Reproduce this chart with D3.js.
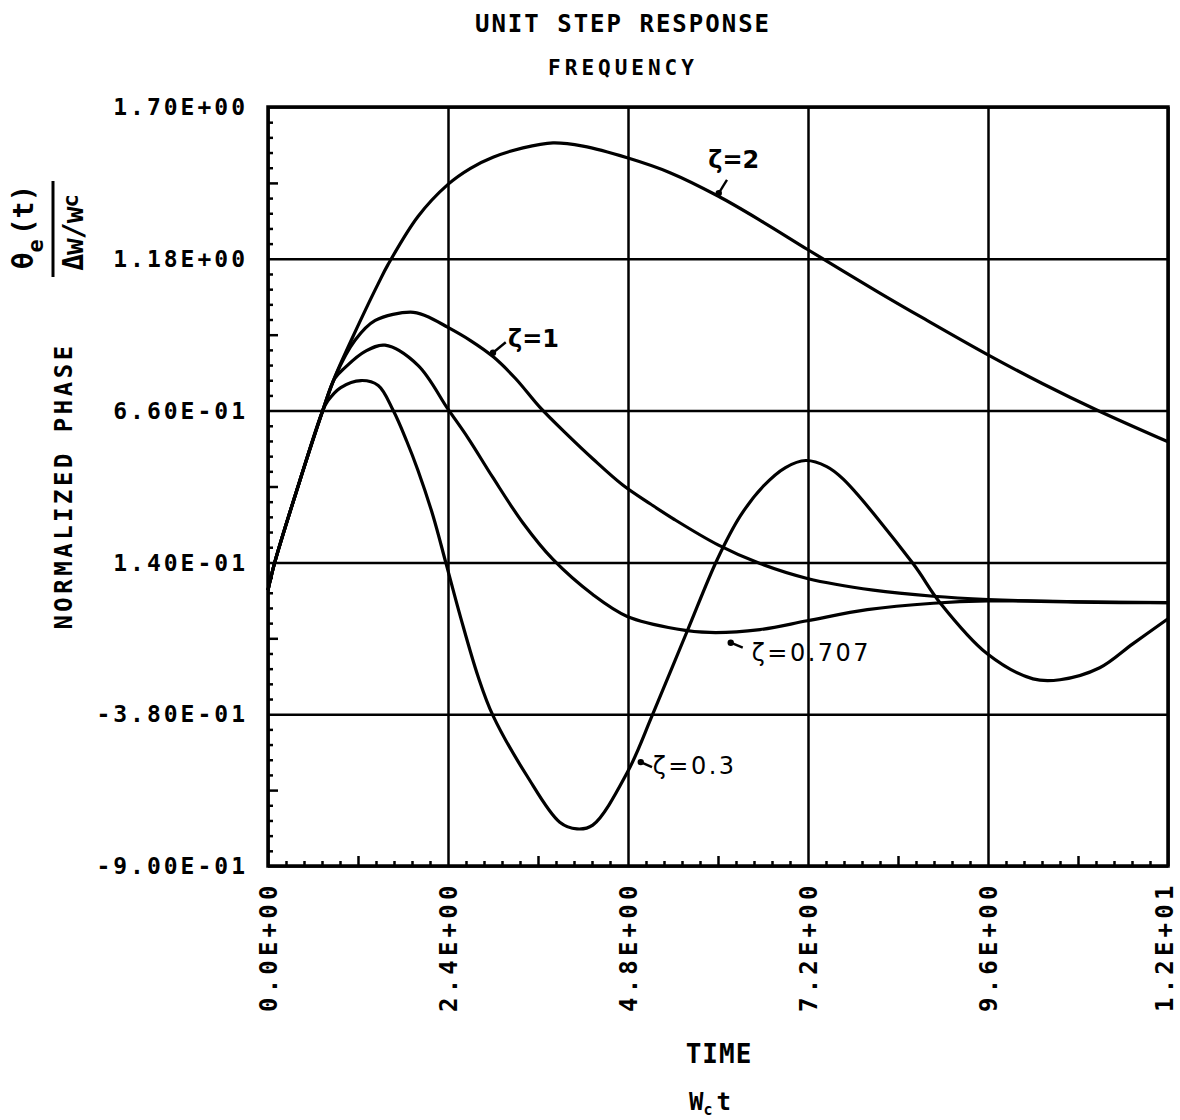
<!DOCTYPE html>
<html>
<head>
<meta charset="utf-8">
<script src="https://cdn.jsdelivr.net/npm/d3@7"></script>
<style>
  html, body { margin: 0; padding: 0; background: #fff; }
  svg { display: block; }
  .plotter { font-family: "DejaVu Sans Mono", monospace; font-weight: bold; fill: #000; }
  .curve-label { font-family: "DejaVu Sans", sans-serif; fill: #000; }
</style>
</head>
<body>
<svg id="chart" width="1180" height="1120"></svg>
<script>
// Normalized phase error for a unit frequency step, one series per damping ratio.
const zeta2Time  = [0, 0.09, 0.4, 0.73, 0.89, 1.11, 1.29, 1.47, 1.6, 2.0, 2.4, 2.7, 3.0, 3.4, 3.8, 4.2, 4.79, 5.36, 6.0, 6.6, 7.2, 8.13, 8.76, 9.6, 10.33, 11.05, 12];
const zeta2Value = [0.045, 0.14, 0.40, 0.66, 0.774, 0.901, 1.0, 1.095, 1.16, 1.325, 1.435, 1.49, 1.528, 1.56, 1.577, 1.566, 1.526, 1.475, 1.395, 1.306, 1.211, 1.067, 0.973, 0.851, 0.752, 0.662, 0.553];

const zeta1Time  = [0, 0.09, 0.4, 0.73, 0.89, 1.16, 1.43, 1.9, 2.1, 2.4, 2.7, 3.0, 3.3, 3.63, 4.0, 4.33, 4.73, 5.1, 5.4, 6.0, 6.56, 7.19, 8.07, 8.87, 9.6, 10.65, 12];
const zeta1Value = [0.045, 0.14, 0.40, 0.66, 0.774, 0.901, 0.969, 0.997, 0.985, 0.945, 0.90, 0.845, 0.77, 0.67, 0.575, 0.495, 0.405, 0.34, 0.29, 0.20, 0.136, 0.085, 0.045, 0.024, 0.013, 0.005, 0.002];

const zeta0707Time  = [0, 0.09, 0.4, 0.73, 0.89, 1.03, 1.29, 1.56, 2.0, 2.4, 2.67, 3.0, 3.4, 3.8, 4.33, 4.79, 5.45, 5.89, 6.56, 7.19, 7.99, 8.87, 9.59, 10.65, 12];
const zeta0707Value = [0.045, 0.14, 0.40, 0.66, 0.77, 0.808, 0.862, 0.884, 0.815, 0.665, 0.565, 0.43, 0.275, 0.15, 0.03, -0.045, -0.088, -0.10, -0.09, -0.06, -0.022, 0.0, 0.008, 0.006, 0.002];

const zeta03Time  = [0, 0.09, 0.4, 0.73, 0.8, 0.97, 1.24, 1.47, 1.67, 1.85, 2.0, 2.2, 2.37, 2.57, 2.8, 3.0, 3.45, 3.89, 4.12, 4.33, 4.79, 5.13, 5.59, 5.99, 6.3, 6.6, 6.9, 7.17, 7.45, 7.67, 8.6, 8.96, 9.59, 10.2, 10.56, 11.09, 11.53, 12];
const zeta03Value = [0.045, 0.14, 0.40, 0.66, 0.694, 0.739, 0.763, 0.746, 0.66, 0.555, 0.455, 0.30, 0.14, -0.05, -0.25, -0.385, -0.59, -0.75, -0.773, -0.76, -0.58, -0.38, -0.095, 0.15, 0.30, 0.40, 0.465, 0.489, 0.468, 0.425, 0.136, 0.002, -0.173, -0.259, -0.262, -0.221, -0.139, -0.053];

// Axis ticks and their printed labels
const yTickValues = [1.70, 1.18, 0.66, 0.14, -0.38, -0.90];
const yTickLabels = ["1.70E+00", "1.18E+00", "6.60E-01", "1.40E-01", "-3.80E-01", "-9.00E-01"];
const xTickValues = [0, 2.4, 4.8, 7.2, 9.6, 12];
const xTickLabels = ["0.0E+00", "2.4E+00", "4.8E+00", "7.2E+00", "9.6E+00", "1.2E+01"];

// Curve annotations: text, text anchor point, arrow tail and arrow tip (data units)
const curveLabels = ["ζ=2", "ζ=1", "ζ=0.707", "ζ=0.3"];
const labelAt   = [[5.87, 1.49], [3.2, 0.877], [6.45, -0.197], [5.13, -0.585]];
const arrowTail = [[6.12, 1.45], [3.17, 0.894], [6.33, -0.152], [5.12, -0.561]];
const arrowTip  = [[6.01, 1.405], [3.0, 0.858], [6.17, -0.135], [4.97, -0.544]];

const series = [
  d3.zip(zeta2Time, zeta2Value),
  d3.zip(zeta1Time, zeta1Value),
  d3.zip(zeta0707Time, zeta0707Value),
  d3.zip(zeta03Time, zeta03Value)
];

const svg = d3.select("#chart");
const plotLeft = 268, plotRight = 1168, plotTop = 107, plotBottom = 866;

const x = d3.scaleLinear().domain([0, 12]).range([plotLeft, plotRight]);
const y = d3.scaleLinear().domain([-0.9, 1.7]).range([plotBottom, plotTop]);

svg.append("rect").attr("width", 1180).attr("height", 1120).attr("fill", "#fff");

// Major grid lines
const gridY = svg.append("g")
  .attr("transform", `translate(${plotLeft},0)`)
  .call(d3.axisLeft(y).tickValues(yTickValues).tickSize(-(plotRight - plotLeft)).tickFormat(() => ""));
const gridX = svg.append("g")
  .attr("transform", `translate(0,${plotBottom})`)
  .call(d3.axisBottom(x).tickValues(xTickValues).tickSize(-(plotBottom - plotTop)).tickFormat(() => ""));
[gridY, gridX].forEach(g => {
  g.select(".domain").remove();
  g.selectAll("line").attr("stroke", "#000").attr("stroke-width", 2.5);
});

// Minor ticks on the left and bottom edges, pointing inward
const yStep = (yTickValues[0] - yTickValues[1]) / 10;
const yMinor = d3.range(0, 51).filter(i => i % 10 !== 0).map(i => -0.9 + i * yStep);
const xStep = (xTickValues[1] - xTickValues[0]) / 10;
const xMinor = d3.range(0, 51).filter(i => i % 10 !== 0).map(i => i * xStep);

function minorTicks(vals, isMid, axisFn, transform, scale) {
  [[vals.filter(isMid), 10], [vals.filter(v => !isMid(v)), 5]].forEach(([vs, len]) => {
    const g = svg.append("g").attr("transform", transform)
      .call(axisFn(scale).tickValues(vs).tickSize(-len).tickFormat(() => ""));
    g.select(".domain").remove();
    g.selectAll("line").attr("stroke", "#000").attr("stroke-width", 2.5);
  });
}
minorTicks(yMinor, v => Math.abs(((v + 0.9) / yStep) % 10 - 5) < 0.01, d3.axisLeft, `translate(${plotLeft},0)`, y);
minorTicks(xMinor, v => Math.abs((v / xStep) % 10 - 5) < 0.01, d3.axisBottom, `translate(0,${plotBottom})`, x);

// Plot frame
svg.append("rect")
  .attr("x", plotLeft).attr("y", plotTop)
  .attr("width", plotRight - plotLeft).attr("height", plotBottom - plotTop)
  .attr("fill", "none").attr("stroke", "#000").attr("stroke-width", 3.5);

// Curves
const line = d3.line()
  .x(d => x(d[0])).y(d => y(d[1]))
  .curve(d3.curveCatmullRom.alpha(0.5));
svg.append("g").selectAll("path").data(series).join("path")
  .attr("d", line)
  .attr("fill", "none").attr("stroke", "#000").attr("stroke-width", 3.2)
  .attr("stroke-linejoin", "round");

// Y tick labels
svg.append("g").selectAll("text").data(yTickValues).join("text")
  .attr("class", "plotter")
  .attr("x", 248).attr("y", d => y(d))
  .attr("dy", "0.36em")
  .attr("text-anchor", "end")
  .style("font-size", "23px").style("letter-spacing", "3px")
  .text((d, i) => yTickLabels[i]);

// X tick labels, written upward
svg.append("g").selectAll("text").data(xTickValues).join("text")
  .attr("class", "plotter")
  .attr("transform", d => `translate(${Math.min(x(d), plotRight - 4)},1012) rotate(-90)`)
  .attr("dy", "0.36em")
  .attr("text-anchor", "start")
  .style("font-size", "24px").style("letter-spacing", "4.2px")
  .text((d, i) => xTickLabels[i]);

// Titles
svg.append("text").attr("class", "plotter")
  .attr("x", 623).attr("y", 32).attr("text-anchor", "middle")
  .style("font-size", "24px").style("letter-spacing", "2px")
  .text("UNIT STEP RESPONSE");
svg.append("text").attr("class", "plotter")
  .attr("x", 623).attr("y", 75).attr("text-anchor", "middle")
  .style("font-size", "21px").style("letter-spacing", "4px")
  .text("FREQUENCY");

// Axis titles
svg.append("text").attr("class", "plotter")
  .attr("transform", "translate(72,486) rotate(-90)")
  .attr("text-anchor", "middle")
  .style("font-size", "24px").style("letter-spacing", "3.5px")
  .text("NORMALIZED PHASE");

svg.append("text").attr("class", "plotter")
  .attr("x", 719).attr("y", 1063).attr("text-anchor", "middle")
  .style("font-size", "26px").style("letter-spacing", "1px")
  .text("TIME");

const wct = svg.append("text").attr("class", "plotter")
  .attr("x", 710).attr("y", 1110).attr("text-anchor", "middle")
  .style("font-size", "24px");
wct.append("tspan").text("W");
wct.append("tspan").attr("dy", 5).style("font-size", "15px").text("c");
wct.append("tspan").attr("dy", -5).attr("dx", 4).text("t");

// Fraction θe(t) / (Δw/wc), rotated alongside the y axis
const frac = svg.append("g").attr("transform", "translate(53,229) rotate(-90)");
frac.append("line")
  .attr("x1", -48).attr("x2", 48).attr("y1", 0).attr("y2", 0)
  .attr("stroke", "#000").attr("stroke-width", 3);
const num = frac.append("text").attr("class", "plotter")
  .attr("x", 2).attr("y", -20).attr("text-anchor", "middle")
  .style("font-size", "28px");
num.append("tspan").text("θ");
num.append("tspan").attr("dy", 10).style("font-size", "22px").text("e");
num.append("tspan").attr("dy", -10).attr("dx", 4).text("(t)");
const den = frac.append("text").attr("class", "plotter")
  .attr("x", -4).attr("y", 30).attr("text-anchor", "middle")
  .style("font-size", "28px").style("letter-spacing", "-1px");
den.append("tspan").text("Δw/w");
den.append("tspan").attr("dy", -5).style("font-size", "22px").text("c");

// Curve annotations with pointer arrows
const ann = svg.append("g");
ann.selectAll("text").data(curveLabels).join("text")
  .attr("class", "curve-label")
  .attr("x", (d, i) => x(labelAt[i][0]))
  .attr("y", (d, i) => y(labelAt[i][1]))
  .style("font-size", "24px")
  .style("font-weight", (d, i) => i < 2 ? "bold" : "normal")
  .style("letter-spacing", (d, i) => i < 2 ? "0px" : "2.5px")
  .text(d => d);
ann.selectAll("line").data(curveLabels).join("line")
  .attr("x1", (d, i) => x(arrowTail[i][0])).attr("y1", (d, i) => y(arrowTail[i][1]))
  .attr("x2", (d, i) => x(arrowTip[i][0])).attr("y2", (d, i) => y(arrowTip[i][1]))
  .attr("stroke", "#000").attr("stroke-width", 2.4);
ann.selectAll("circle").data(curveLabels).join("circle")
  .attr("cx", (d, i) => x(arrowTip[i][0])).attr("cy", (d, i) => y(arrowTip[i][1]))
  .attr("r", 3.2).attr("fill", "#000");
</script>
</body>
</html>
